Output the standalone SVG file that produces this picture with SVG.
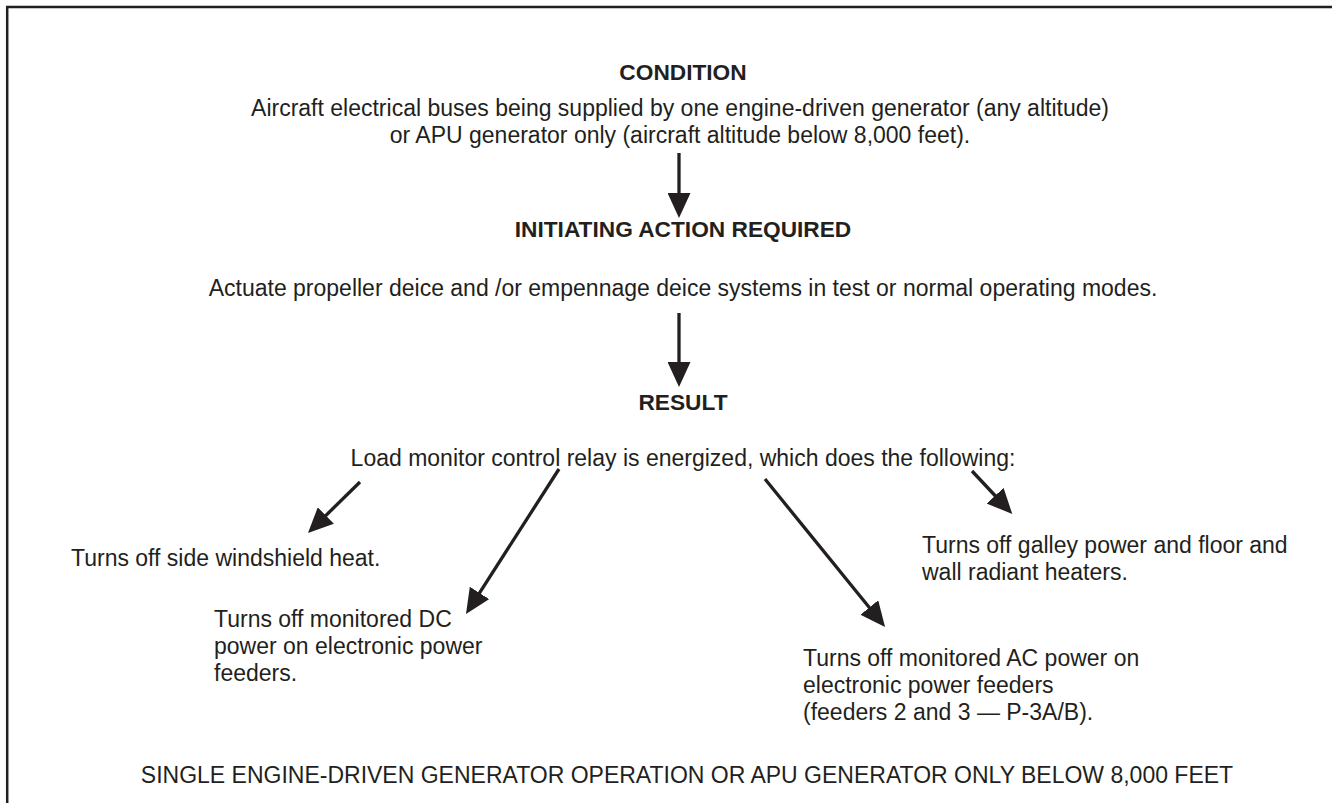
<svg xmlns="http://www.w3.org/2000/svg" width="1332" height="803" viewBox="0 0 1332 803">
<style>
text{font-family:"Liberation Sans",Arial,sans-serif;font-size:23px;fill:#231f20}
.b{font-weight:bold;font-size:22.7px}
.c{text-anchor:middle}
.ln{stroke:#231f20;stroke-width:3.3;fill:none}
</style>
<defs>
<marker id="ah" viewBox="0 0 25 23" markerWidth="25" markerHeight="23" markerUnits="userSpaceOnUse" refX="10" refY="11.5" orient="auto">
<path d="M0,0 L25,11.5 L0,23 Z" fill="#231f20"/>
</marker>
</defs>
<rect width="1332" height="803" fill="#fff"/>
<path d="M7.2,803 V7 H1332" stroke="#231f20" stroke-width="2.5" fill="none"/>
<g id="condition">
<text class="b c" x="683" y="80">CONDITION</text>
<text class="c" x="680" y="116">Aircraft electrical buses being supplied by one engine-driven generator (any altitude)</text>
<text class="c" x="680" y="143">or APU generator only (aircraft altitude below 8,000 feet).</text>
</g>
<g id="initiating">
<text class="b c" x="683" y="237">INITIATING ACTION REQUIRED</text>
<text class="c" x="683" y="296">Actuate propeller deice and /or empennage deice systems in test or normal operating modes.</text>
</g>
<g id="result">
<text class="b c" x="683" y="410">RESULT</text>
<text class="c" x="683" y="466">Load monitor control relay is energized, which does the following:</text>
</g>
<g id="windshield">
<text x="71" y="566">Turns off side windshield heat.</text>
</g>
<g id="dc">
<text x="214" y="627">Turns off monitored DC</text>
<text x="214" y="654">power on electronic power</text>
<text x="214" y="681">feeders.</text>
</g>
<g id="ac">
<text x="803" y="666">Turns off monitored AC power on</text>
<text x="803" y="693">electronic power feeders</text>
<text x="803" y="720">(feeders 2 and 3 — P-3A/B).</text>
</g>
<g id="galley">
<text x="922" y="553">Turns off galley power and floor and</text>
<text x="922" y="580">wall radiant heaters.</text>
</g>
<g id="caption">
<text class="c" x="687" y="783">SINGLE ENGINE-DRIVEN GENERATOR OPERATION OR APU GENERATOR ONLY BELOW 8,000 FEET</text>
</g>
<g id="connectors">
<line class="ln" x1="679" y1="153" x2="679" y2="203" marker-end="url(#ah)"/>
<line class="ln" x1="679" y1="313" x2="679" y2="372" marker-end="url(#ah)"/>
<line class="ln" x1="360" y1="482" x2="318.7" y2="522.5" marker-end="url(#ah)"/>
<line class="ln" x1="559" y1="469" x2="474.1" y2="601.4" marker-end="url(#ah)"/>
<line class="ln" x1="765" y1="479" x2="875.6" y2="615.3" marker-end="url(#ah)"/>
<line class="ln" x1="972" y1="471" x2="1002" y2="503" marker-end="url(#ah)"/>
</g>
</svg>
